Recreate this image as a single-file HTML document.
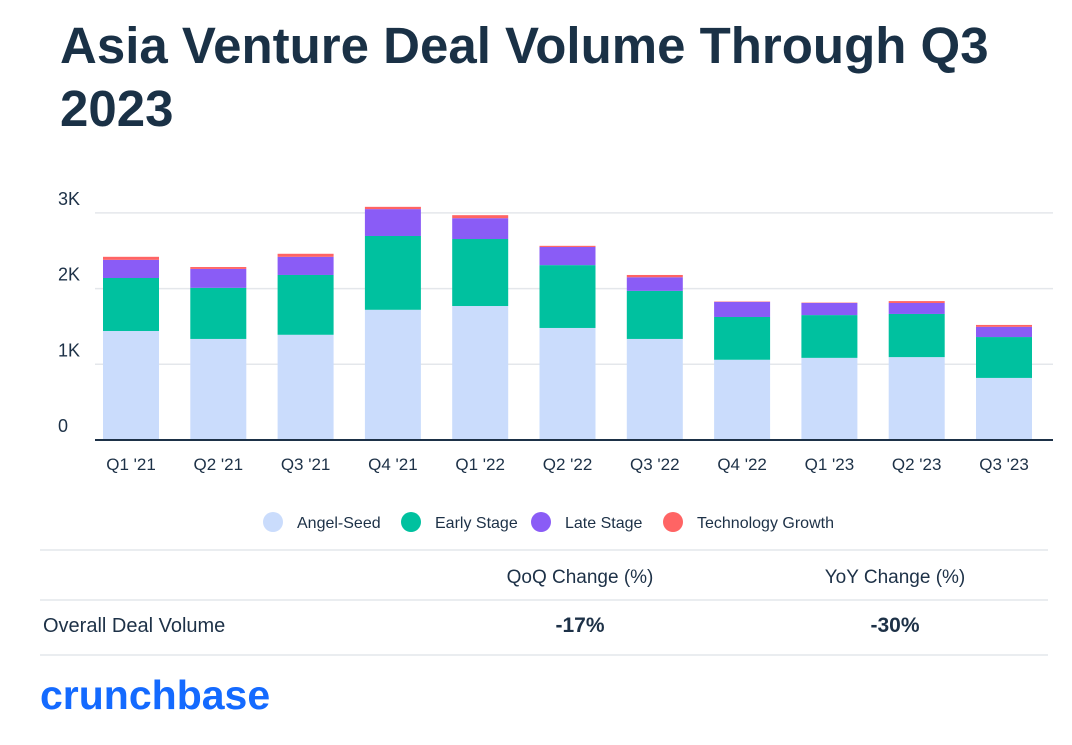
<!DOCTYPE html>
<html><head><meta charset="utf-8">
<style>
body{margin:0;width:1072px;height:745px;background:#fff;font-family:"Liberation Sans",sans-serif;color:#1d3147;overflow:hidden;position:relative}
.t{position:absolute}
</style></head><body>
<div class="t" style="left:60px;top:14px;font-size:51px;font-weight:bold;line-height:63px;width:960px;color:#1a3146">Asia Venture Deal Volume Through Q3 2023</div>
<svg id="chart" width="1072" height="745" style="position:absolute;left:0;top:0"></svg>
<script>
const categories=["Q1 '21","Q2 '21","Q3 '21","Q4 '21","Q1 '22","Q2 '22","Q3 '22","Q4 '22","Q1 '23","Q2 '23","Q3 '23"];
const angelSeed=[1440,1335,1390,1720,1770,1480,1335,1060,1085,1095,820];
const earlyStage=[700,675,790,975,885,830,635,565,565,570,540];
const lateStage=[240,250,240,355,275,240,180,200,160,145,135];
const techGrowth=[40,25,40,30,40,15,30,5,5,25,25];
const yTicks=[0,1000,2000,3000];
const yTickLabels=["0","1K","2K","3K"];
const seriesNames=["Angel-Seed","Early Stage","Late Stage","Technology Growth"];
const colors=["#cadcfc","#00c19f","#8a5cf6","#ff6464"];
const svg=document.getElementById('chart');
const NS="http://www.w3.org/2000/svg";
const y0=440,pxPerK=75.7;
function y(v){return y0-v/1000*pxPerK;}
function x(i){return 131+i*87.3;}
function mk(t,a){const e=document.createElementNS(NS,t);for(const k in a)e.setAttribute(k,a[k]);svg.appendChild(e);return e;}
yTicks.forEach((v,i)=>{
 if(v>0){const g=mk('line',{x1:95,x2:1053,y1:y(v),y2:y(v),stroke:'#e4e7eb','stroke-width':1.5});
 
 }
 const t=mk('text',{x:58,y:y(v)-8,'font-size':18,fill:'#1d3147'});t.textContent=yTickLabels[i];
 
 
});
const series=[angelSeed,earlyStage,lateStage,techGrowth];
categories.forEach((c,i)=>{
 let base=0;
 series.forEach((s,j)=>{
  const top=base+s[i];
  const r=mk('rect',{x:x(i)-28,y:y(top),width:56,height:y(base)-y(top),fill:colors[j]});
  
  
  base=top;
 });
 const t=mk('text',{x:x(i),y:470,'font-size':17,'text-anchor':'middle',fill:'#1d3147'});t.textContent=c;
 
 
});
const ax=mk('line',{x1:95,x2:1053,y1:y0,y2:y0,stroke:'#1d3147','stroke-width':2});


const lx=[273,411,541,673];
seriesNames.forEach((n,j)=>{
 const c=mk('circle',{cx:lx[j],cy:522,r:10,fill:colors[j]});
 
 
 const t=mk('text',{x:lx[j]+24,y:528,'font-size':16,fill:'#1d3147'});t.textContent=n;
 
 
});
[550,600,655].forEach(yy=>{const l=mk('line',{x1:40,x2:1048,y1:yy,y2:yy,stroke:'#e4e7eb','stroke-width':1.5});
 
 });
</script>
<div class="t" style="left:480px;top:567px;width:200px;text-align:center;font-size:19px">QoQ Change (%)</div>
<div class="t" style="left:795px;top:567px;width:200px;text-align:center;font-size:19px">YoY Change (%)</div>
<div class="t" style="left:43px;top:615px;font-size:20px">Overall Deal Volume</div>
<div class="t" style="left:480px;top:614px;width:200px;text-align:center;font-size:21px;font-weight:bold">-17%</div>
<div class="t" style="left:795px;top:614px;width:200px;text-align:center;font-size:21px;font-weight:bold">-30%</div>
<div class="t" style="left:40px;top:672px;font-size:41px;font-weight:bold;color:#146aff;letter-spacing:0px">crunchbase</div>
</body></html>
